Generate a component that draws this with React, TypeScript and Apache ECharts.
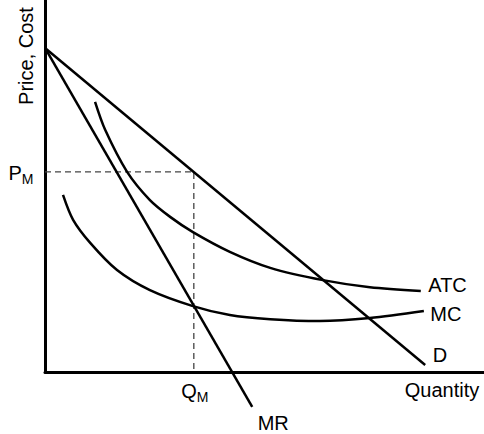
import React, { useEffect, useRef } from "react";
import * as echarts from "echarts";

// Data in chart units (x: quantity 0..100, y: price/cost 0..100)
const demand: number[][] = [[0, 87.1], [86.6, 1.9]];
const marginalRevenue: number[][] = [[0, 87.1], [47.2, -9.4]];
const atc: number[][] = [
  [11.4, 72.6], [13.7, 65.1], [18.7, 53.8], [23.9, 46.2], [28.5, 41.7],
  [33.7, 37.6], [42.1, 32.3], [51.3, 28.0], [63.3, 24.7], [74.0, 22.8], [85.6, 21.8],
];
const mc: number[][] = [
  [4.1, 47.6], [6.4, 40.9], [10.3, 34.7], [16.4, 27.4], [23.9, 22.0],
  [33.7, 17.7], [42.1, 15.3], [51.3, 14.2], [62.6, 13.7], [74.0, 14.5], [86.3, 16.4],
];
const qM = 33.9;
const pM = 53.8;
const curveNames = ["D", "MR", "ATC", "MC"];
const axisNames = ["Quantity", "Price, Cost"];

const FONT = "'Liberation Sans', Arial, Helvetica, sans-serif";

function curve(
  name: string,
  data: number[][],
  smooth: number | boolean,
  distance: number,
  offset: number[]
) {
  return {
    type: "line",
    name,
    clip: false,
    smooth,
    symbol: "circle",
    symbolSize: 1,
    showSymbol: true,
    itemStyle: { color: "transparent" },
    lineStyle: { color: "#000", width: 2.5 },
    emphasis: { disabled: true },
    silent: true,
    label: { show: false },
    data: data.map((p, i) =>
      i === data.length - 1
        ? {
            value: p,
            label: {
              show: true,
              position: "right",
              distance,
              offset,
              formatter: name,
              color: "#000",
              fontSize: 20,
              fontFamily: FONT,
            },
          }
        : p
    ),
  };
}

const subRich = {
  p: { fontSize: 20, lineHeight: 20, verticalAlign: "top", color: "#000", fontFamily: FONT },
  m: { fontSize: 14, lineHeight: 14, verticalAlign: "top", padding: [9, 0, 0, 0], color: "#000", fontFamily: FONT },
};

export default function App() {
  const ref = useRef<HTMLDivElement>(null);
  useEffect(() => {
    document.body.style.margin = "0";
    if (!ref.current) return;
    const chart = echarts.init(ref.current, null, { renderer: "svg" });
    chart.setOption({
      animation: false,
      grid: { left: 45, right: 0, top: 0, bottom: 62 },
      xAxis: {
        type: "value",
        min: 0,
        max: 100,
        axisLine: { show: true, lineStyle: { color: "#000", width: 3 } },
        axisTick: { show: false },
        axisLabel: { show: false },
        splitLine: { show: false },
      },
      yAxis: {
        type: "value",
        min: 0,
        max: 100,
        axisLine: { show: true, lineStyle: { color: "#000", width: 3 } },
        axisTick: { show: false },
        axisLabel: { show: false },
        splitLine: { show: false },
      },
      graphic: [
        {
          type: "text",
          x: 442,
          y: 390,
          style: {
            text: axisNames[0],
            fontSize: 20,
            fontFamily: FONT,
            fill: "#000",
            align: "center",
            verticalAlign: "middle",
          },
        },
        {
          type: "text",
          x: 26,
          y: 56,
          rotation: Math.PI / 2,
          style: {
            text: axisNames[1],
            fontSize: 20,
            fontFamily: FONT,
            fill: "#000",
            align: "center",
            verticalAlign: "middle",
          },
        },
      ],
      series: [
        {
          type: "line",
          name: "guides",
          clip: false,
          symbol: "circle",
          symbolSize: 1,
          showSymbol: true,
          itemStyle: { color: "transparent" },
          lineStyle: { color: "#444", width: 1.3, type: [6, 4] },
          emphasis: { disabled: true },
          silent: true,
          z: 1,
          data: [
            {
              value: [0, pM],
              label: {
                show: true,
                position: "left",
                distance: 11,
                offset: [0, 1],
                formatter: "{p|P}{m|M}",
                rich: subRich,
              },
            },
            [qM, pM],
            {
              value: [qM, 0],
              label: {
                show: true,
                position: "bottom",
                distance: 8,
                offset: [1, 0],
                formatter: "{p|Q}{m|M}",
                rich: subRich,
              },
            },
          ],
        },
        curve(curveNames[0], demand, false, 7, [0, -10]),
        curve(curveNames[1], marginalRevenue, false, 5, [0, 16]),
        curve(curveNames[2], atc, 0.3, 7, [0, -6]),
        curve(curveNames[3], mc, 0.3, 6, [0, 3]),
      ],
    });
    return () => chart.dispose();
  }, []);
  return <div ref={ref} style={{ width: 484, height: 434 }} />;
}
